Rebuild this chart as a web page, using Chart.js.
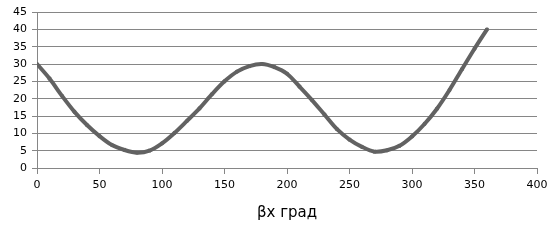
<!DOCTYPE html>
<html>
<head>
<meta charset="utf-8">
<script src="https://cdn.jsdelivr.net/npm/chart.js@4"></script>
<style>
  html, body { margin: 0; padding: 0; background: #fff; }
  #wrap { width: 560px; height: 242px; }
</style>
</head>
<body>
<div id="wrap"><canvas id="betaChart" width="560" height="242"></canvas></div>
<script>
// angle, degrees
const angles = [0, 10, 20, 30, 40, 50, 60, 70, 80, 90, 100, 110, 120, 130, 140, 150, 160, 170, 180,
                190, 200, 210, 220, 230, 240, 250, 260, 270, 280, 290, 300, 310, 320, 330, 340, 350, 360];
const values = [30, 25.8, 20.8, 16.2, 12.4, 9.2, 6.6, 5.2, 4.4, 5.0, 7.1, 10.1, 13.6, 17.2, 21.3, 25.0, 27.8, 29.4, 30,
                29.1, 27.2, 23.5, 19.6, 15.4, 11.2, 8.2, 6.1, 4.7, 5.1, 6.4, 9.1, 12.7, 17.1, 22.5, 28.5, 34.4, 40];
const xTitle = "βx град";

const gridGray = "#868686";
const lineGray = "#626262";

const points = angles.map((a, i) => ({ x: a, y: values[i] }));

new Chart(document.getElementById("betaChart"), {
    type: "line",
    data: {
        datasets: [{
            data: points,
            borderColor: lineGray,
            backgroundColor: lineGray,
            borderWidth: 4,
            pointRadius: 2,
            pointStyle: "crossRot",
            pointBorderWidth: 2,
            tension: 0.3,
            fill: false
        }]
    },
    options: {
        responsive: false,
        animation: false,
        layout: { padding: { top: 12, right: 23, left: 0, bottom: 0 } },
        plugins: {
            legend: { display: false },
            tooltip: { enabled: false }
        },
        scales: {
            x: {
                type: "linear",
                min: 0,
                max: 400,
                afterFit: s => { s.height = 74; },
                ticks: {
                    stepSize: 50,
                    color: "#000",
                    padding: 5,
                    maxRotation: 0,
                    font: { family: "DejaVu Sans", size: 11 }
                },
                grid: {
                    drawOnChartArea: false,
                    drawTicks: true,
                    tickLength: 6,
                    color: gridGray
                },
                border: { color: gridGray, width: 1 },
                title: {
                    display: true,
                    text: xTitle,
                    color: "#000",
                    font: { family: "DejaVu Sans", size: 15 },
                    padding: { top: 0, bottom: 20 }
                }
            },
            y: {
                min: 0,
                max: 45,
                afterFit: s => { s.width = 37; },
                ticks: {
                    stepSize: 5,
                    color: "#000",
                    padding: 5,
                    font: { family: "DejaVu Sans", size: 11 }
                },
                grid: {
                    color: gridGray,
                    tickLength: 5
                },
                border: { color: gridGray, width: 1 }
            }
        }
    }
});
</script>
</body>
</html>
